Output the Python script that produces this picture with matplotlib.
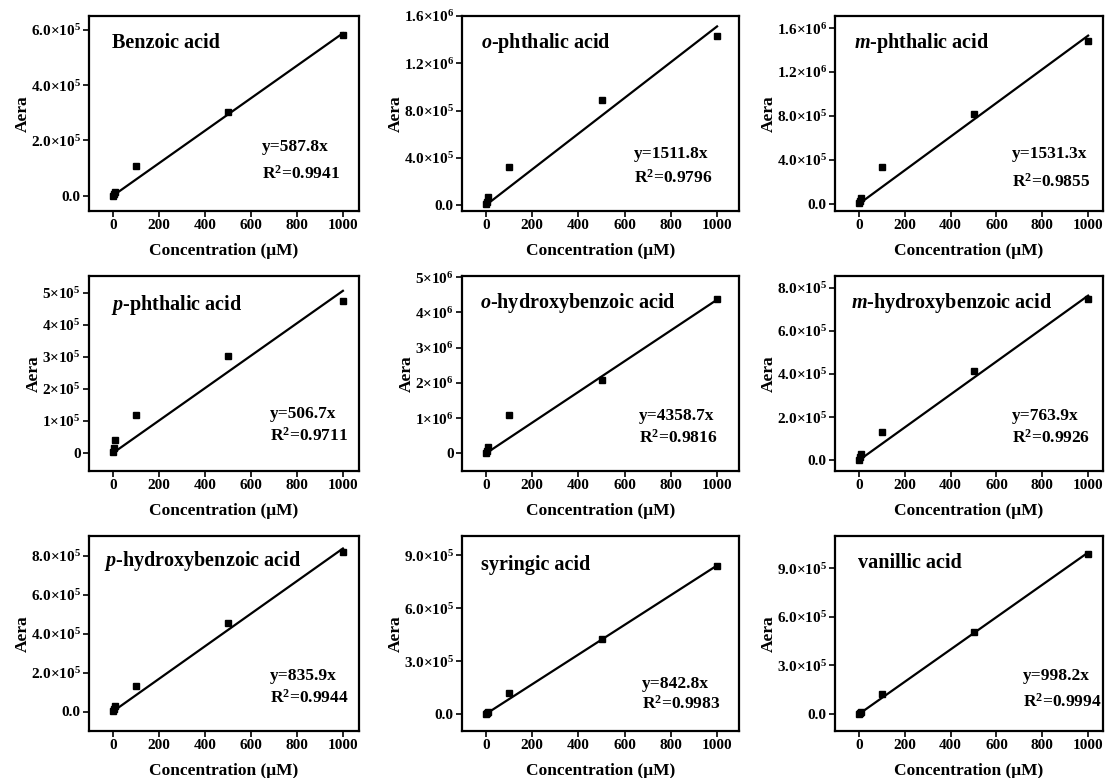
import matplotlib
matplotlib.use("Agg")
import matplotlib.pyplot as plt
import numpy as np

plt.rcParams['font.family'] = ['Liberation Serif', 'DejaVu Serif']
plt.rcParams['font.weight'] = 'bold'
plt.rcParams['mathtext.fontset'] = 'custom'
plt.rcParams['mathtext.rm'] = 'Liberation Serif:bold'
plt.rcParams['mathtext.it'] = 'Liberation Serif:italic:bold'
plt.rcParams['mathtext.bf'] = 'Liberation Serif:bold'

# concentration (uM)
conc = [1, 5, 10, 100, 500, 1000]

# peak areas
benzoic = [1.0e3, 6.0e3, 1.2e4, 1.06e5, 3.04e5, 5.81e5]
o_phthalic = [6.0e3, 3.0e4, 6.9e4, 3.2e5, 8.9e5, 1.428e6]
m_phthalic = [5.0e3, 2.5e4, 5.3e4, 3.4e5, 8.2e5, 1.484e6]
p_phthalic = [3.0e3, 1.5e4, 4.0e4, 1.2e5, 3.02e5, 4.76e5]
o_hydroxy = [1.5e4, 8.0e4, 1.8e5, 1.08e6, 2.09e6, 4.37e6]
m_hydroxy = [3.0e3, 1.5e4, 3.0e4, 1.32e5, 4.13e5, 7.49e5]
p_hydroxy = [2.0e3, 1.5e4, 3.0e4, 1.32e5, 4.53e5, 8.19e5]
syringic = [1.0e3, 5.0e3, 1.1e4, 1.21e5, 4.25e5, 8.37e5]
vanillic = [1.0e3, 5.0e3, 1.0e4, 1.22e5, 5.09e5, 9.87e5]

names = ['Benzoic acid', r'$o$-phthalic acid', r'$m$-phthalic acid',
         r'$p$-phthalic acid', r'$o$-hydroxybenzoic acid', r'$m$-hydroxybenzoic acid',
         r'$p$-hydroxybenzoic acid', 'syringic acid', 'vanillic acid']
areas = [benzoic, o_phthalic, m_phthalic, p_phthalic, o_hydroxy, m_hydroxy,
         p_hydroxy, syringic, vanillic]
slopes = [587.8, 1511.8, 1531.3, 506.7, 4358.7, 763.9, 835.9, 842.8, 998.2]
r2 = ['0.9941', '0.9796', '0.9855', '0.9711', '0.9816', '0.9926', '0.9944', '0.9983', '0.9994']

# y ticks and labels
yticks = [[0, 2e5, 4e5, 6e5], [0, 4e5, 8e5, 1.2e6, 1.6e6], [0, 4e5, 8e5, 1.2e6, 1.6e6],
          [0, 1e5, 2e5, 3e5, 4e5, 5e5], [0, 1e6, 2e6, 3e6, 4e6, 5e6], [0, 2e5, 4e5, 6e5, 8e5],
          [0, 2e5, 4e5, 6e5, 8e5], [0, 3e5, 6e5, 9e5], [0, 3e5, 6e5, 9e5]]
ylabels = [['0.0', r'2.0×10$^{5}$', r'4.0×10$^{5}$', r'6.0×10$^{5}$'],
           ['0.0', r'4.0×10$^{5}$', r'8.0×10$^{5}$', r'1.2×10$^{6}$', r'1.6×10$^{6}$'],
           ['0.0', r'4.0×10$^{5}$', r'8.0×10$^{5}$', r'1.2×10$^{6}$', r'1.6×10$^{6}$'],
           ['0', r'1×10$^{5}$', r'2×10$^{5}$', r'3×10$^{5}$', r'4×10$^{5}$', r'5×10$^{5}$'],
           ['0', r'1×10$^{6}$', r'2×10$^{6}$', r'3×10$^{6}$', r'4×10$^{6}$', r'5×10$^{6}$'],
           ['0.0', r'2.0×10$^{5}$', r'4.0×10$^{5}$', r'6.0×10$^{5}$', r'8.0×10$^{5}$'],
           ['0.0', r'2.0×10$^{5}$', r'4.0×10$^{5}$', r'6.0×10$^{5}$', r'8.0×10$^{5}$'],
           ['0.0', r'3.0×10$^{5}$', r'6.0×10$^{5}$', r'9.0×10$^{5}$'],
           ['0.0', r'3.0×10$^{5}$', r'6.0×10$^{5}$', r'9.0×10$^{5}$']]
ylims = [(-0.55e5, 6.5e5), (-0.05e6, 1.6e6), (-0.065e6, 1.71e6),
         (-0.56e5, 5.53e5), (-0.5e6, 5.03e6), (-0.5e5, 8.55e5),
         (-1.0e5, 9.0e5), (-0.97e5, 10.1e5), (-1.05e5, 11.0e5)]
xlims = [(-104, 1070), (-104, 1095), (-105, 1065)]

# text positions (axes fraction)
name_pos = [(0.085, 0.86), (0.07, 0.86), (0.07, 0.86), (0.08, 0.85), (0.065, 0.86),
            (0.06, 0.86), (0.055, 0.87), (0.07, 0.85), (0.085, 0.86)]
eq_pos = [(0.64, 0.33, 0.19), (0.62, 0.29, 0.17), (0.66, 0.29, 0.15),
          (0.67, 0.29, 0.18), (0.64, 0.28, 0.17), (0.66, 0.28, 0.17),
          (0.67, 0.28, 0.17), (0.65, 0.24, 0.14), (0.70, 0.28, 0.15)]

W, H = 1105, 778
col_left = [89, 462, 835]
col_w = [270, 277, 268]
row_top = [16, 276, 536]
ax_h = 195

fig = plt.figure(figsize=(W / 100, H / 100), dpi=100)

for i in range(9):
    r, c = divmod(i, 3)
    ax = fig.add_axes([col_left[c] / W, 1 - (row_top[r] + ax_h) / H, col_w[c] / W, ax_h / H])
    xx = np.array([0, 1000])
    ax.plot(xx, slopes[i] * xx, color='black', lw=1.6, zorder=2)
    ax.plot(conc, areas[i], 's', color='black', ms=4.5, zorder=3)
    ax.set_xlim(*xlims[c])
    ax.set_ylim(*ylims[i])
    ax.set_xticks([0, 200, 400, 600, 800, 1000])
    ax.set_yticks(yticks[i])
    ax.set_yticklabels(ylabels[i])
    for s in ax.spines.values():
        s.set_linewidth(1.6)
    ax.tick_params(direction='out', length=4, width=1.2, labelsize=11, pad=2)
    for lab in ax.get_xticklabels() + ax.get_yticklabels():
        lab.set_fontweight('bold')
    ax.set_xlabel('Concentration (μM)', fontsize=12.5, fontweight='bold', labelpad=8)
    ax.set_ylabel('Aera', fontsize=12.5, fontweight='bold', labelpad=0)
    ax.text(name_pos[i][0], name_pos[i][1], names[i], transform=ax.transAxes,
            fontsize=14.5, fontweight='bold', va='center', ha='left')
    ex, ey1, ey2 = eq_pos[i]
    ax.text(ex, ey1, 'y=%.1fx' % slopes[i], transform=ax.transAxes,
            fontsize=12.5, fontweight='bold', va='center', ha='left')
    ax.text(ex, ey2, r'R$^{2}$=' + r2[i], transform=ax.transAxes,
            fontsize=12.5, fontweight='bold', va='center', ha='left')

fig.savefig('out.png', dpi=100)
